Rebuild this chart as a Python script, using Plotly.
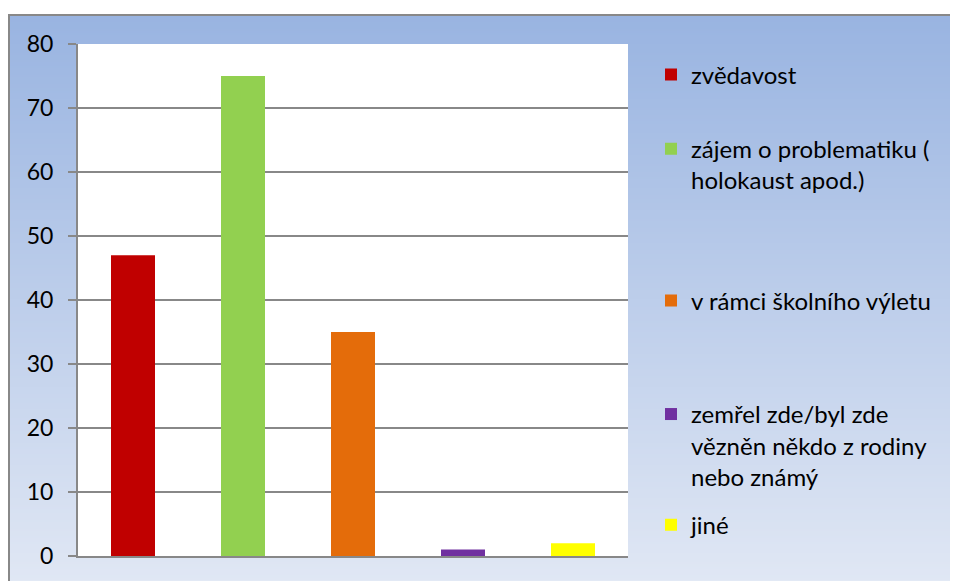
import base64, struct, zlib
import plotly.graph_objects as go

# ---- data ----
categories = ["zvědavost", "zájem o problematiku ( holokaust apod.)", "v rámci školního výletu",
              "zemřel zde/byl zde vězněn někdo z rodiny nebo známý", "jiné"]
legend_labels = ["zvědavost", "zájem o problematiku (<br>holokaust apod.)", "v rámci školního výletu",
                 "zemřel zde/byl zde<br>vězněn někdo z rodiny<br>nebo známý", "jiné"]
values = [47, 75, 35, 1, 2]
colors = ["#C00000", "#92D050", "#E46C0A", "#7030A0", "#FFFF00"]
y_ticks = [0, 10, 20, 30, 40, 50, 60, 70, 80]

OFF = 8  # page body margin in the browser
W, H = 958 - OFF, 581 - OFF
L, R, T, B = 78, 628, 44, 558  # plot area in window pixels

def px_x(p):
    return (p - L) / (R - L)

def px_y(p):
    return (B - p) / (B - T)

# vertical gradient background image (1 px wide PNG)
def gradient_png(h, top, bottom):
    rows = b""
    for i in range(h):
        t = i / (h - 1)
        c = [round(top[k] + (bottom[k] - top[k]) * t) for k in range(3)]
        rows += b"\x00" + bytes(c)
    def chunk(tag, data):
        return struct.pack(">I", len(data)) + tag + data + struct.pack(">I", zlib.crc32(tag + data) & 0xffffffff)
    png = b"\x89PNG\r\n\x1a\n"
    png += chunk(b"IHDR", struct.pack(">IIBBBBB", 1, h, 8, 2, 0, 0, 0))
    png += chunk(b"IDAT", zlib.compress(rows))
    png += chunk(b"IEND", b"")
    return "data:image/png;base64," + base64.b64encode(png).decode()

bg = gradient_png(256, (153, 180, 225), (224, 231, 244))

fig = go.Figure()
legend_ys = [75, 165, 302, 447, 527]
legend_names = ["legend", "legend2", "legend3", "legend4", "legend5"]
for i in range(len(categories)):
    fig.add_trace(go.Bar(
        x=[categories[i]], y=[values[i]], name=legend_labels[i],
        marker=dict(color=colors[i], line=dict(width=0)),
        legend=legend_names[i], showlegend=True,
    ))

legend_font = dict(family="Lato, Open Sans, sans-serif", size=24, color="#000000")
layout_legends = {}
for i, ln in enumerate(legend_names):
    layout_legends[ln] = dict(
        x=px_x(651), y=px_y(legend_ys[i]), xanchor="left", yanchor="middle",
        bgcolor="rgba(0,0,0,0)", borderwidth=0, font=legend_font, valign="top",
        itemclick=False, itemdoubleclick=False,
    )

fig.update_layout(
    width=W, height=H,
    margin=dict(l=L - OFF, r=958 - R, t=T - OFF, b=581 - B),
    paper_bgcolor="white",
    plot_bgcolor="white",
    barmode="overlay",
    bargap=0.6,
    font=dict(family="Lato, Open Sans, sans-serif", size=22, color="#000000"),
    xaxis=dict(
        type="category", categoryarray=categories, showticklabels=False, ticks="",
        showgrid=False, showline=True, linecolor="#888888", linewidth=2,
        zeroline=False, range=[-0.5, 4.5],
    ),
    yaxis=dict(
        range=[0, 80], tickvals=y_ticks, ticktext=[str(v) for v in y_ticks],
        ticks="outside", ticklen=8, tickcolor="#888888", tickwidth=2,
        showline=True, linecolor="#888888", linewidth=2,
        showgrid=True, gridcolor="#888888", gridwidth=1.5, zeroline=False,
        ticklabelstandoff=10,
        tickfont=dict(family="Lato, Open Sans, sans-serif", size=23, color="#000000"),
    ),
    images=[dict(
        source=bg, xref="paper", yref="paper",
        x=px_x(8), y=px_y(14), sizex=px_x(960) - px_x(8), sizey=px_y(14) - px_y(583),
        xanchor="left", yanchor="top", sizing="stretch", layer="below",
    )],
    shapes=[
        dict(type="rect", xref="paper", yref="paper", x0=0, x1=1, y0=0, y1=1,
             fillcolor="white", line=dict(width=0), layer="below"),
        dict(type="line", xref="paper", yref="paper", x0=px_x(9), x1=px_x(9), y0=px_y(14), y1=px_y(583),
             line=dict(color="#888888", width=2), layer="below"),
        dict(type="line", xref="paper", yref="paper", x0=px_x(8), x1=px_x(960), y0=px_y(15), y1=px_y(15),
             line=dict(color="#888888", width=2), layer="below"),
    ],
    **layout_legends,
)

fig.write_html("out.html")
